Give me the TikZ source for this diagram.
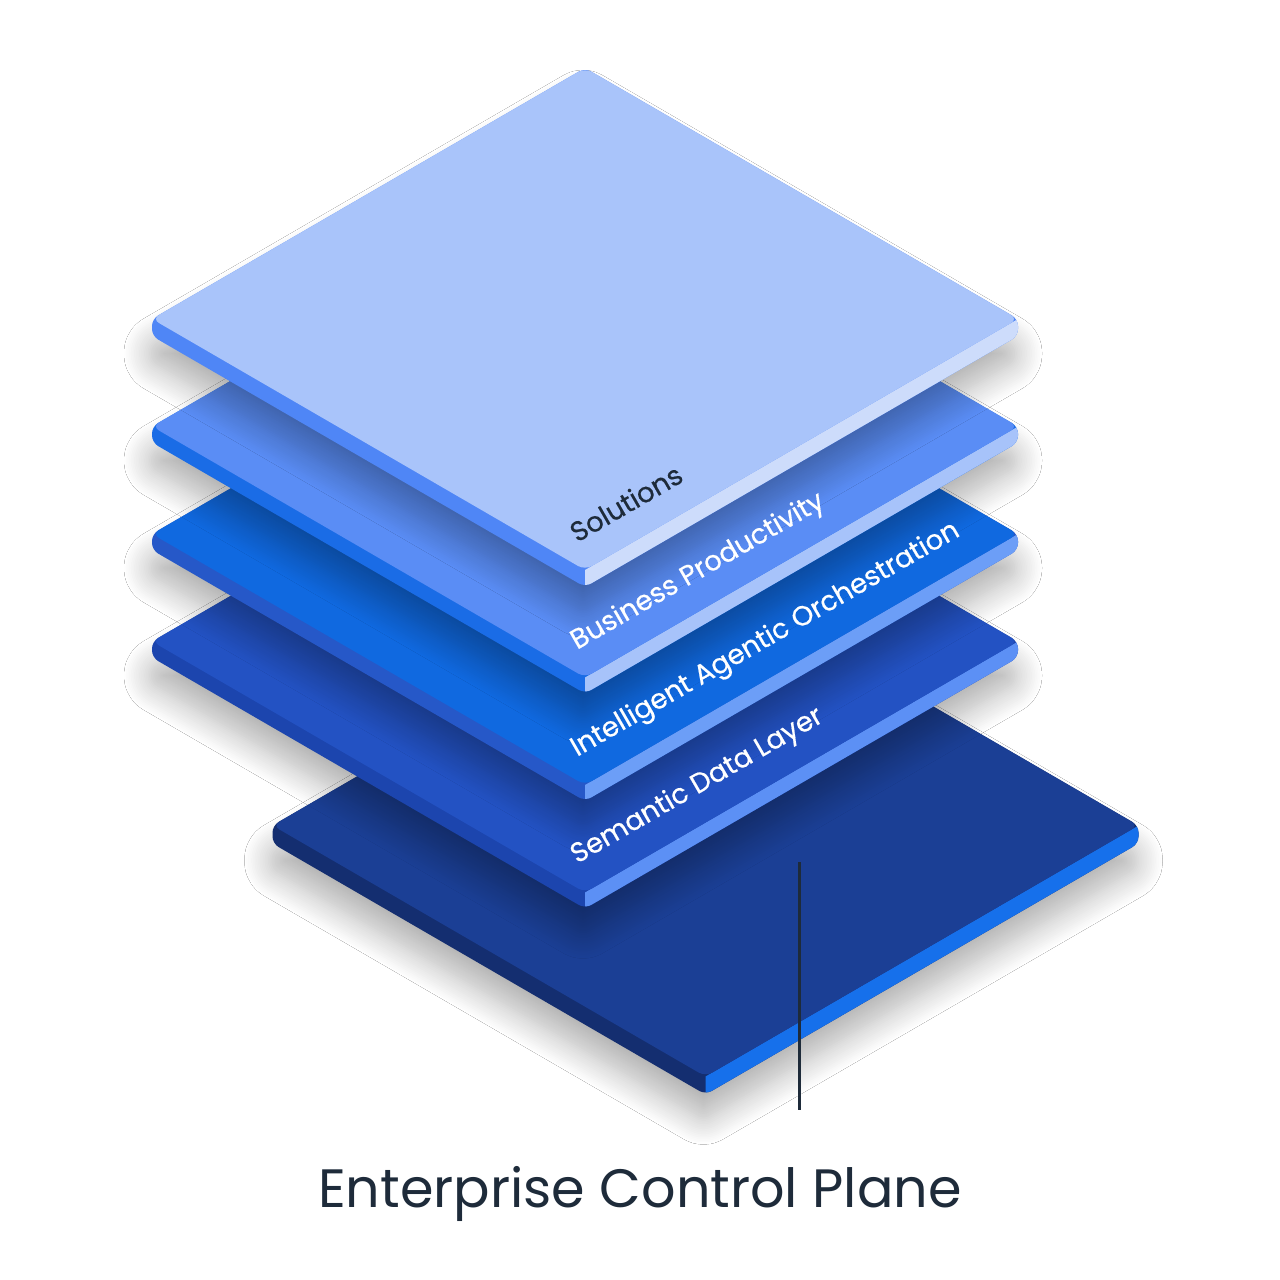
\documentclass[tikz,border=0pt]{standalone}
\usepackage{fontspec}
\setmainfont{Poppins}
\newfontfamily\lblfont{Poppins}[FakeBold=0.5]
\usetikzlibrary{shadows.blur}
\definecolor{solT}{HTML}{A9C4FA}\definecolor{solL}{HTML}{4F86F6}\definecolor{solR}{HTML}{CDDCFB}
\definecolor{busT}{HTML}{5A8DF5}\definecolor{busL}{HTML}{1A6CE6}\definecolor{busR}{HTML}{A7C3FA}
\definecolor{intT}{HTML}{1069E0}\definecolor{intL}{HTML}{2658C8}\definecolor{intR}{HTML}{6C9EF7}
\definecolor{semT}{HTML}{2352C3}\definecolor{semL}{HTML}{1C45AE}\definecolor{semR}{HTML}{5C90F5}
\definecolor{entT}{HTML}{1B3F95}\definecolor{entL}{HTML}{142E70}\definecolor{entR}{HTML}{1670EB}
\definecolor{ink}{HTML}{1E2B3A}
\tikzset{
  slabshadow/.style={blur shadow={shadow xshift=-2pt, shadow yshift=-26pt, shadow blur radius=26pt, shadow blur steps=16, shadow opacity=30}},
  lbl/.style={font=\lblfont\fontsize{27.5}{30}\selectfont, anchor=base west, rotate=30, inner sep=0pt},
}
% #1 cx, #2 cy, #3 top colour, #4 left side, #5 right side, #6 thickness
\newcommand\Slab[6]{%
\begin{scope}[shift={(#1,#2)}]
  \path[slabshadow, fill=#4, rounded corners=7] (-433,0) -- (0,-251) -- (433,0) -- (433,#6) -- (0,251+#6) -- (-433,#6) -- cycle;
  \begin{scope}
    \clip[rounded corners=7] (-433,0) -- (0,-251) -- (433,0) -- (433,#6) -- (0,251+#6) -- (-433,#6) -- cycle;
    \fill[#5] (0,251) -- (433,0) -- (440,0) -- (440,#6+5) -- (0,251+#6+5) -- cycle;
  \end{scope}
  \fill[#3, rounded corners=8] (-433,0) -- (0,-251) -- (433,0) -- (0,251) -- cycle;
\end{scope}}
\begin{document}
\begin{tikzpicture}[x=1pt, y=-1pt]
  \fill[white] (0,0) rectangle (1280,1280);
  \useasboundingbox (0,0) rectangle (1280,1280);
  \Slab{705.5}{825.5}{entT}{entL}{entR}{18}
  \Slab{585}{641.5}{semT}{semL}{semR}{16}
  \Slab{585}{534}{intT}{intL}{intR}{16}
  \Slab{585}{426.5}{busT}{busL}{busR}{16}
  \Slab{585}{319}{solT}{solL}{solR}{17}
  \node[lbl, text=ink] (sol) at (577,543) {Solutions};
  \node[lbl, text=white] (bus) at (577,650) {Business Productivity};
  \node[lbl, text=white] (int) at (577,757) {Intelligent Agentic Orchestration};
  \node[lbl, text=white] (sem) at (577,864) {Semantic Data Layer};
  \coordinate (lnTop) at (799,862);
  \coordinate (lnBot) at (799,1110);
  \draw[ink, line width=3pt] (lnTop) -- (lnBot);
  \node[font=\fontsize{54}{60}\selectfont, text=ink, anchor=base, inner sep=0pt] (ecp) at (640,1207) {Enterprise Control Plane};
\end{tikzpicture}
\end{document}
